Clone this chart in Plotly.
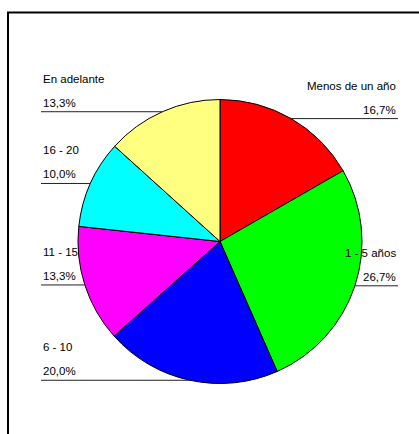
import math
import plotly.graph_objects as go

# Data
categories = ["Menos de un año", "1 - 5 años", "6 - 10", "11 - 15", "16 - 20", "En adelante"]
percentages = [16.7, 26.7, 20.0, 13.3, 10.0, 13.3]
slice_colors = ["#FF0000", "#00FF00", "#0000FF", "#FF00FF", "#00FFFF", "#FFFF80"]

# Page and pie geometry (pixels)
W, H = 419, 434
CX, CY, R = 220.0, 241.5, 142.0
LEFT_X, RIGHT_X = 41.0, 398.0
FONT = dict(family="Liberation Sans, Arial, sans-serif", size=11.5, color="#000000")

fig = go.Figure()

fig.add_trace(go.Pie(
    labels=categories,
    values=percentages,
    sort=False,
    direction="clockwise",
    rotation=0,
    marker=dict(colors=slice_colors, line=dict(color="#000000", width=1)),
    textinfo="none",
    hoverinfo="label+percent",
    showlegend=False,
    domain=dict(x=[(CX - R) / W, (CX + R) / W],
                y=[(H - CY - R) / H, (H - CY + R) / H]),
))

# Leader lines and labels, placed at each slice's mid-angle on the rim
total = sum(percentages)
shapes = []
annotations = []
start = 0.0
for name, val in zip(categories, percentages):
    mid = start + val / total * 360.0 / 2.0
    start += val / total * 360.0
    a = math.radians(mid)
    px = CX + R * math.sin(a)
    py = CY - R * math.cos(a)
    right_side = math.sin(a) > 0
    if right_side:
        x0, x1, tx, anchor = px, RIGHT_X, RIGHT_X, "right"
    else:
        x0, x1, tx, anchor = LEFT_X, px, LEFT_X, "left"
    shapes.append(dict(type="line", xref="x", yref="y", x0=x0, x1=x1, y0=py, y1=py,
                       line=dict(color="#222222", width=1)))
    pct_text = f"{val:.1f}".replace(".", ",") + "%"
    annotations.append(dict(x=tx, y=py - 33, xref="x", yref="y", text=name,
                            showarrow=False, xanchor=anchor, yanchor="middle", font=FONT))
    annotations.append(dict(x=tx, y=py - 9, xref="x", yref="y", text=pct_text,
                            showarrow=False, xanchor=anchor, yanchor="middle", font=FONT))

# Chart frame (open on the right and bottom edges of the page)
shapes.append(dict(type="rect", xref="x", yref="y", x0=8, y0=12.5, x1=W + 20, y1=H + 20,
                   line=dict(color="#000000", width=2), fillcolor="rgba(0,0,0,0)", layer="below"))

fig.update_layout(
    width=W, height=H,
    margin=dict(l=0, r=0, t=0, b=0),
    paper_bgcolor="#FFFFFF",
    plot_bgcolor="rgba(0,0,0,0)",
    xaxis=dict(range=[0, W], visible=False, fixedrange=True),
    yaxis=dict(range=[H, 0], visible=False, fixedrange=True),
    shapes=shapes,
    annotations=annotations,
)

fig.write_html("out.html")
